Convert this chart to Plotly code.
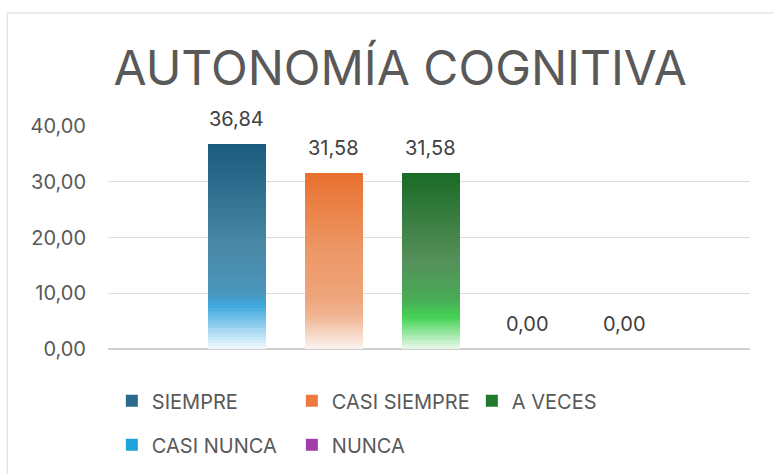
import plotly.graph_objects as go

categories = ["SIEMPRE", "CASI SIEMPRE", "A VECES", "CASI NUNCA", "NUNCA"]
values = [36.84, 31.58, 31.58, 0.00, 0.00]
labels = ["36,84", "31,58", "31,58", "0,00", "0,00"]
y_ticks = [0, 10, 20, 30, 40]
y_tick_labels = ["0,00", "10,00", "20,00", "30,00", "40,00"]

# gradient stops (fraction from bottom, colour) per series
gradients = [
    [(0.0, "#f2f9fd"), (0.21, "#3fa9df"), (0.27, "#4a96bd"), (0.5, "#4a88a6"), (1.0, "#1a5a7c")],
    [(0.0, "#fdf5f1"), (0.18, "#f0b595"), (0.3, "#eea47a"), (0.55, "#ee9868"), (1.0, "#e8702e")],
    [(0.0, "#eafaea"), (0.18, "#44d256"), (0.28, "#48ac56"), (0.5, "#55905a"), (1.0, "#1a6a26")],
    [(0.0, "#e8f6fd"), (0.5, "#1ea0d8"), (1.0, "#1a8cc4")],
    [(0.0, "#f6e6f6"), (0.5, "#b04ab8"), (1.0, "#9a3aa2")],
]
legend_colors = ["#2a6a8c", "#ec7a40", "#1f7a2e", "#20a2da", "#a23ea8"]

N_SLICES = 70


def hex2rgb(h):
    h = h.lstrip("#")
    return tuple(int(h[i:i + 2], 16) for i in (0, 2, 4))


def interp(stops, f):
    for (f0, c0), (f1, c1) in zip(stops[:-1], stops[1:]):
        if f0 <= f <= f1:
            t = 0 if f1 == f0 else (f - f0) / (f1 - f0)
            a, b = hex2rgb(c0), hex2rgb(c1)
            return "rgb(%d,%d,%d)" % tuple(round(a[i] + (b[i] - a[i]) * t) for i in range(3))
    return stops[-1][1]


fig = go.Figure()

for cat, val, stops in zip(categories, values, gradients):
    if val <= 0:
        continue
    seg = val / N_SLICES
    xs, ys, bases, cols = [], [], [], []
    for i in range(N_SLICES):
        f = (i + 0.5) / N_SLICES
        xs.append(cat)
        ys.append(seg * 1.02 if i < N_SLICES - 1 else seg)
        bases.append(seg * i)
        cols.append(interp(stops, f))
    fig.add_trace(go.Bar(
        x=xs, y=ys, base=bases, width=0.6,
        marker=dict(color=cols, line=dict(width=0)),
        showlegend=False, hoverinfo="skip",
    ))

# legend entries
for i, (cat, col) in enumerate(zip(categories, legend_colors)):
    fig.add_trace(go.Bar(
        x=[cat], y=[None], name=cat,
        marker=dict(color=col, line=dict(width=0)),
        legend="legend" if i < 3 else "legend2",
    ))

for cat, val, lab in zip(categories, values, labels):
    fig.add_annotation(
        x=cat, y=val, text=lab, showarrow=False, yshift=25,
        font=dict(size=20, color="#404040", family="Inter"),
    )

fig.add_shape(
    type="rect", xref="paper", yref="paper",
    x0=-0.157, y0=-0.7, x1=1.2, y1=1.507,
    line=dict(color="#d9d9d9", width=1), fillcolor="rgba(0,0,0,0)", layer="below",
)

fig.update_layout(
    width=774, height=474,
    margin=dict(l=108, r=24, t=126, b=125, autoexpand=False),
    paper_bgcolor="white", plot_bgcolor="white",
    barmode="overlay", bargap=0,
    separators=", ",
    font=dict(family="Inter", color="#595959"),
    title=dict(
        text="AUTONOMÍA COGNITIVA", x=0.517, xanchor="center",
        y=0.857, yanchor="middle",
        font=dict(size=48, color="#595959", family="Inter"),
    ),
    xaxis=dict(
        categoryorder="array", categoryarray=categories,
        range=[-1.33, 5.29], showticklabels=False, showgrid=False,
        zeroline=False, showline=False, fixedrange=True,
    ),
    yaxis=dict(
        range=[0, 40], tickvals=y_ticks, ticktext=y_tick_labels,
        showgrid=True, gridcolor="#dcdcdc", gridwidth=1,
        zeroline=True, zerolinecolor="#cfcfcf", zerolinewidth=2,
        tickfont=dict(size=20, color="#595959"), ticks="", ticklabelstandoff=21,
        fixedrange=True,
    ),
    legend=dict(
        orientation="h", x=0.006, y=-0.145, xanchor="left", yanchor="top",
        entrywidth=135, font=dict(size=20, color="#595959"),
        itemclick=False, tracegroupgap=0,
    ),
    legend2=dict(
        orientation="h", x=0.006, y=-0.342, xanchor="left", yanchor="top",
        entrywidth=135, font=dict(size=20, color="#595959"),
        itemclick=False,
    ),
)

fig.write_html("out.html", config={"displayModeBar": False},
               post_script="document.body.style.margin='0';")
